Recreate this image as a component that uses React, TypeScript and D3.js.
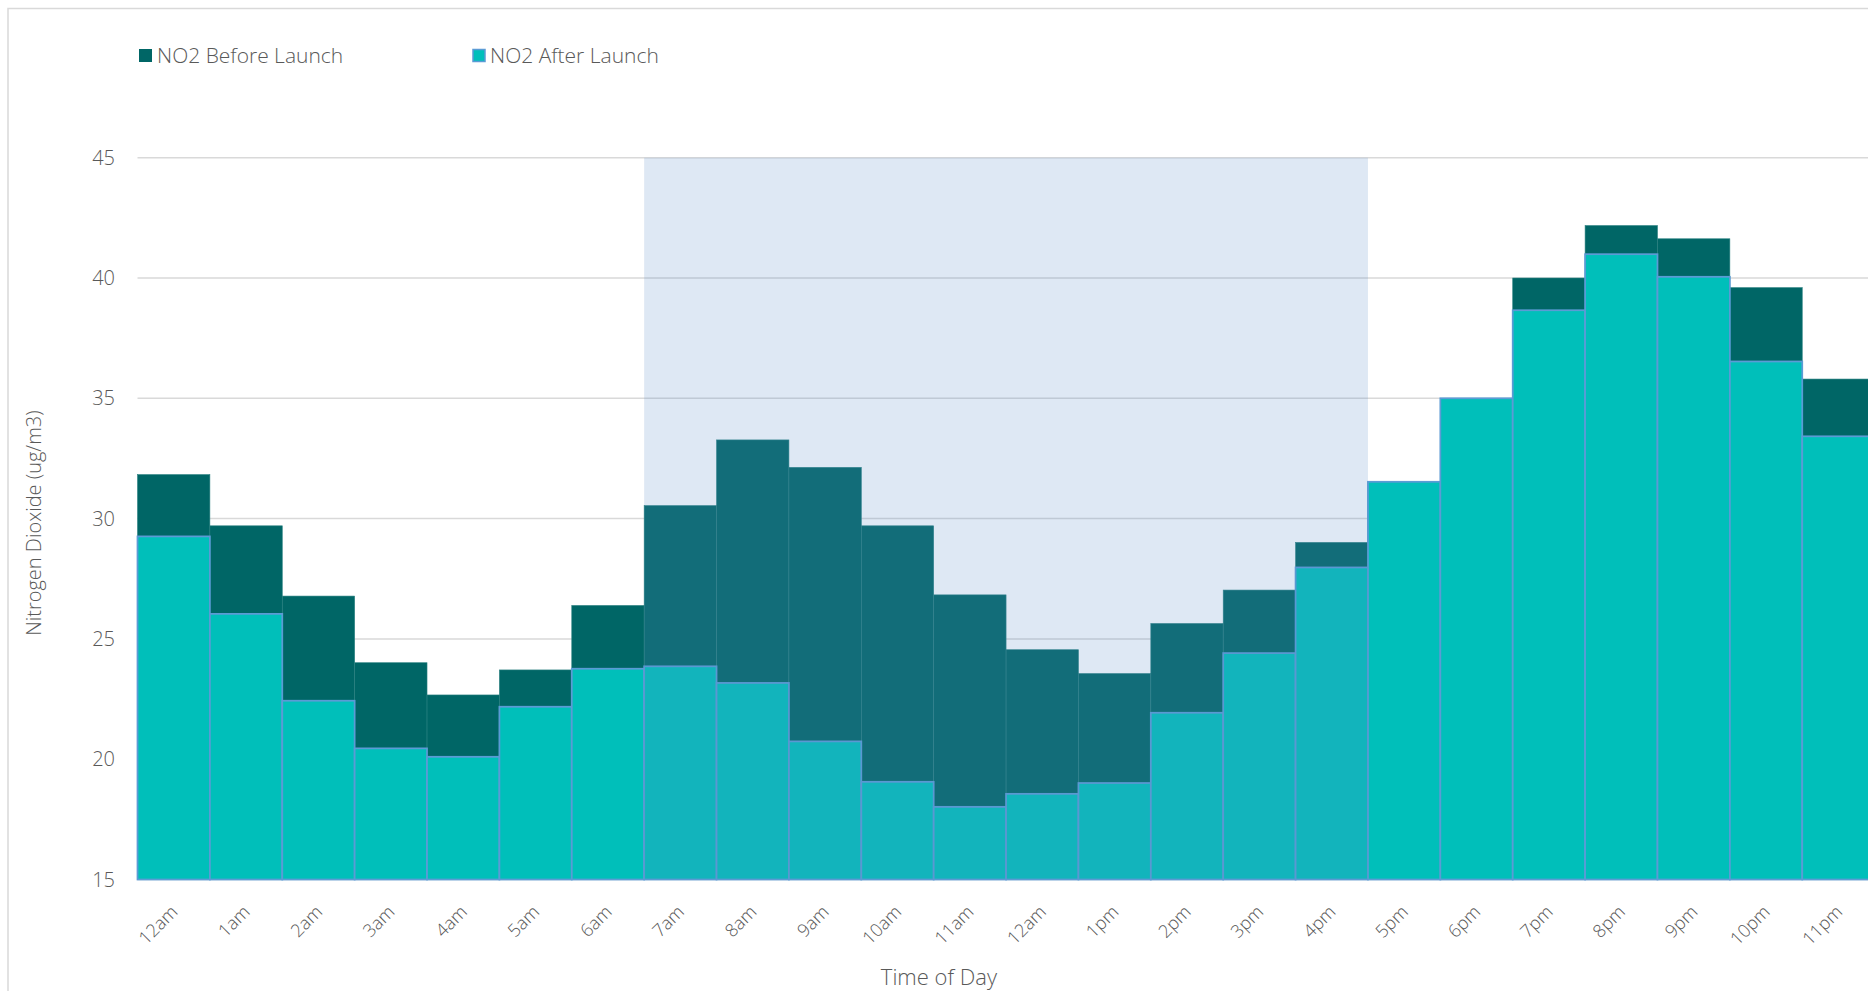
import React from "react";
import * as d3 from "d3";

const categories = ["12am","1am","2am","3am","4am","5am","6am","7am","8am","9am","10am","11am","12am","1pm","2pm","3pm","4pm","5pm","6pm","7pm","8pm","9pm","10pm","11pm"];
const beforeLaunch = [31.83,29.7,26.78,24.01,22.67,23.71,26.39,30.54,33.27,32.13,29.7,26.83,24.55,23.56,25.64,27.03,29.01,31.5,35.0,40.0,42.18,41.63,39.6,35.8];
const afterLaunch = [29.26,26.04,22.43,20.45,20.1,22.18,23.76,23.86,23.17,20.74,19.06,18.02,18.56,19.01,21.93,24.41,27.97,31.53,35.0,38.66,40.99,40.05,36.53,33.42];
const yTicks = [15,20,25,30,35,40,45];
const highlightStart = 7;
const highlightEnd = 16;
const seriesNames = ["NO2 Before Launch","NO2 After Launch"];

const FONT = "'Open Sans', 'Noto Sans', sans-serif";
const TEXT = "#595959";
const C_BEFORE = "#006666";
const C_AFTER = "#00BFBA";
const C_EDGE = "#5B9BD5";

export default function App() {
  const W = 1868, H = 991;
  const left = 137.5, step = 72.38;
  const idx = categories.map((_, i) => String(i));
  const x = d3.scaleBand().domain(idx).range([left, left + step * categories.length]).padding(0);
  const y = d3.scaleLinear().domain([15, 45]).range([879.5, 157.7]);
  const bw = x.bandwidth();
  const bandX0 = x(String(highlightStart))!;
  const bandX1 = x(String(highlightEnd))! + bw;
  const xEnd = left + step * categories.length;

  return (
    <svg width={W} height={H} style={{ position: "fixed", left: 0, top: 0, display: "block", background: "#fff" }} fontFamily={FONT} fontWeight={300}>
      <rect x={8} y={8.5} width={1862} height={1100} fill="#fff" stroke="#D9D9D9" strokeWidth={1.5} />
      {yTicks.map((t) => (
        <line key={"g" + t} x1={left} x2={xEnd} y1={y(t)} y2={y(t)} stroke="#D9D9D9" strokeWidth={1.5} />
      ))}
      {beforeLaunch.map((v, i) => (
        <rect key={"b" + i} x={x(String(i))} y={y(v)} width={bw} height={y(15) - y(v)} fill={C_BEFORE} stroke="#2a8080" strokeWidth={0.6} />
      ))}
      {afterLaunch.map((v, i) => (
        <rect key={"a" + i} x={x(String(i))} y={y(v)} width={bw} height={y(15) - y(v)} fill={C_AFTER} stroke={C_EDGE} strokeWidth={1.75} />
      ))}
      <rect x={bandX0} y={y(45)} width={bandX1 - bandX0} height={y(15) - y(45)} fill="rgb(90,140,200)" fillOpacity={0.2} />
      {yTicks.map((t) => (
        <text key={"yt" + t} x={115} y={y(t)} dy="0.35em" textAnchor="end" fontSize={20} fill={TEXT}>{t}</text>
      ))}
      {categories.map((c, i) => {
        const cx = x(String(i))! + bw / 2 + 5;
        const cy = 913;
        return (
          <text key={"xt" + i} x={cx} y={cy} textAnchor="end" fontSize={18} fill={TEXT} transform={`rotate(-45 ${cx} ${cy})`}>{c}</text>
        );
      })}
      <text x={939} y={985} textAnchor="middle" fontSize={22} fill={TEXT}>Time of Day</text>
      <text transform="translate(41,523) rotate(-90)" textAnchor="middle" fontSize={20} fill={TEXT}>Nitrogen Dioxide (ug/m3)</text>
      <rect x={139} y={49} width={13} height={13} fill={C_BEFORE} />
      <text x={157} y={63} fontSize={21} fill={TEXT}>{seriesNames[0]}</text>
      <rect x={473} y={49.5} width={12} height={12} fill={C_AFTER} stroke={C_EDGE} strokeWidth={1.5} />
      <text x={490} y={63} fontSize={21} fill={TEXT}>{seriesNames[1]}</text>
    </svg>
  );
}
